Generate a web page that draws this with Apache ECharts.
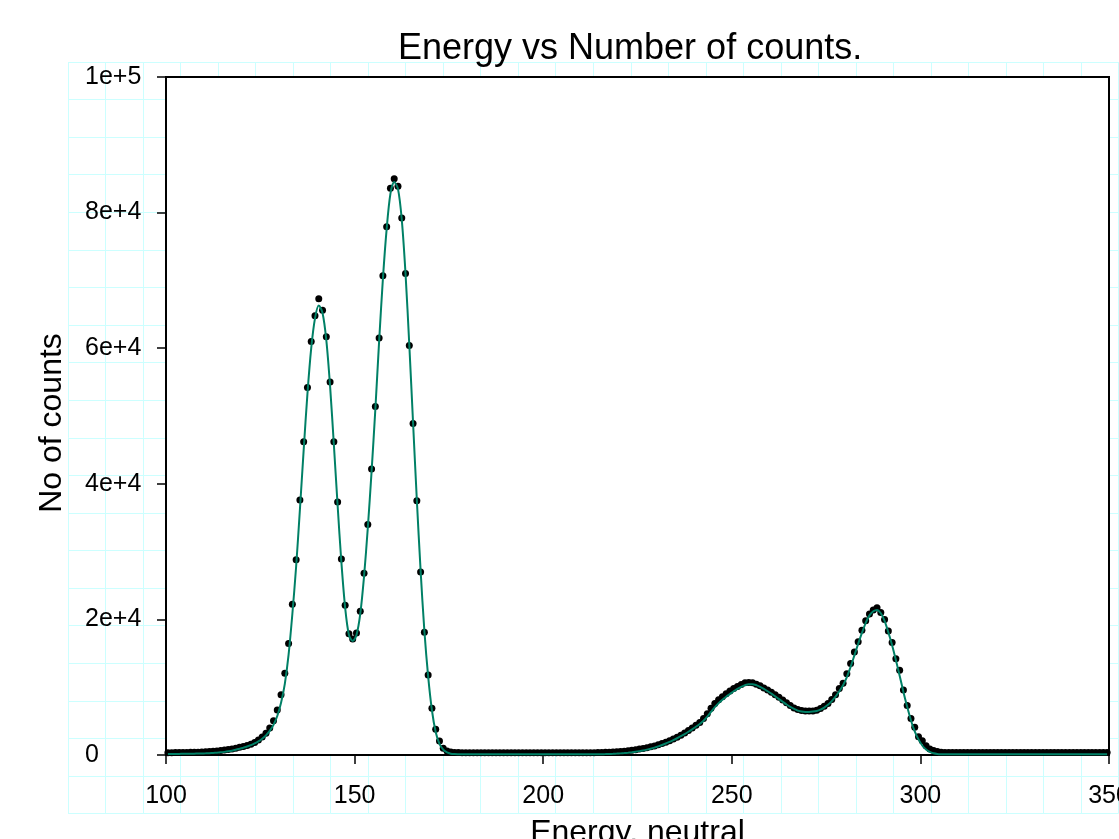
<!DOCTYPE html>
<html><head><meta charset="utf-8">
<script src="https://cdn.jsdelivr.net/npm/echarts@6/dist/echarts.min.js"></script>
<style>html,body{margin:0;padding:0;background:#fff}#c{width:1119px;height:839px}</style>
</head><body><div id="c"></div>
<script>
const chartTitle = 'Energy vs Number of counts.';
const xName = 'Energy, neutral';
const yName = 'No of counts';
const yTickLabels = ['0','2e+4','4e+4','6e+4','8e+4','1e+5'];

const energies = [
100.5,101.5,102.5,103.5,104.5,105.5,106.5,107.5,108.5,109.5,
110.5,111.5,112.5,113.5,114.5,115.5,116.5,117.5,118.5,119.5,
120.5,121.5,122.5,123.5,124.5,125.5,126.5,127.5,128.5,129.5,
130.5,131.5,132.5,133.5,134.5,135.5,136.5,137.5,138.5,139.5,
140.5,141.5,142.5,143.5,144.5,145.5,146.5,147.5,148.5,149.5,
150.5,151.5,152.5,153.5,154.5,155.5,156.5,157.5,158.5,159.5,
160.5,161.5,162.5,163.5,164.5,165.5,166.5,167.5,168.5,169.5,
170.5,171.5,172.5,173.5,174.5,175.5,176.5,177.5,178.5,179.5,
180.5,181.5,182.5,183.5,184.5,185.5,186.5,187.5,188.5,189.5,
190.5,191.5,192.5,193.5,194.5,195.5,196.5,197.5,198.5,199.5,
200.5,201.5,202.5,203.5,204.5,205.5,206.5,207.5,208.5,209.5,
210.5,211.5,212.5,213.5,214.5,215.5,216.5,217.5,218.5,219.5,
220.5,221.5,222.5,223.5,224.5,225.5,226.5,227.5,228.5,229.5,
230.5,231.5,232.5,233.5,234.5,235.5,236.5,237.5,238.5,239.5,
240.5,241.5,242.5,243.5,244.5,245.5,246.5,247.5,248.5,249.5,
250.5,251.5,252.5,253.5,254.5,255.5,256.5,257.5,258.5,259.5,
260.5,261.5,262.5,263.5,264.5,265.5,266.5,267.5,268.5,269.5,
270.5,271.5,272.5,273.5,274.5,275.5,276.5,277.5,278.5,279.5,
280.5,281.5,282.5,283.5,284.5,285.5,286.5,287.5,288.5,289.5,
290.5,291.5,292.5,293.5,294.5,295.5,296.5,297.5,298.5,299.5,
300.5,301.5,302.5,303.5,304.5,305.5,306.5,307.5,308.5,309.5,
310.5,311.5,312.5,313.5,314.5,315.5,316.5,317.5,318.5,319.5,
320.5,321.5,322.5,323.5,324.5,325.5,326.5,327.5,328.5,329.5,
330.5,331.5,332.5,333.5,334.5,335.5,336.5,337.5,338.5,339.5,
340.5,341.5,342.5,343.5,344.5,345.5,346.5,347.5,348.5,349.5
];

const counts = [
340,350,355,360,370,380,390,400,420,440,
470,500,540,590,650,720,800,900,1010,1130,
1260,1400,1600,1850,2200,2650,3200,4000,5060,6640,
8900,12060,16430,22240,28800,37600,46200,54200,61000,64800,
67300,65600,61700,55000,46200,37300,28900,22100,17900,17100,
18000,21200,26800,34000,42200,51400,61500,70700,77900,83600,
85000,83900,79200,71000,60400,48900,37500,27000,18100,11800,
6900,3800,2070,990,590,450,380,360,350,350,
350,350,350,350,350,350,350,350,350,350,
350,350,350,350,350,350,350,350,350,350,
350,350,350,350,350,350,350,350,350,350,
350,350,350,350,360,380,400,420,450,480,
520,570,630,700,780,870,970,1080,1200,1340,
1500,1680,1880,2100,2350,2620,2920,3250,3600,3980,
4380,4800,5400,6100,6900,7600,8150,8600,9050,9450,
9800,10100,10400,10650,10700,10650,10450,10200,9900,9600,
9250,8900,8500,8100,7700,7300,6950,6700,6550,6500,
6480,6500,6600,6850,7200,7600,8200,8900,9800,10600,
12000,13500,15200,16700,18400,19800,20800,21400,21700,21000,
20000,18300,16600,14200,12500,9600,7300,5400,4100,2700,
2100,1350,900,650,500,420,380,370,370,370,
370,370,370,370,370,370,370,370,370,370,
370,370,370,370,370,370,370,370,370,370,
370,370,370,370,370,370,370,370,370,370,
370,370,370,370,370,370,370,370,370,370
];

const fit = [
150,155,160,165,170,180,190,200,215,230,
250,275,305,345,395,460,540,640,770,920,
1080,1250,1450,1700,2000,2400,2900,3550,4450,5750,
7700,10500,14800,20800,27800,36200,45000,53300,60000,64400,
66300,65200,61200,54400,45800,36800,28400,21700,17700,16800,
17700,20800,26300,33500,41800,51000,61000,70200,77600,82800,
84500,83500,79000,71000,60500,49000,37600,27200,18300,11600,
6600,3400,1650,780,370,190,130,110,100,100,
100,100,100,100,100,100,100,100,100,100,
100,100,100,100,100,100,100,100,100,100,
100,100,100,100,100,100,100,100,100,100,
100,100,100,100,105,115,130,150,175,205,
240,285,340,405,480,570,670,790,930,1090,
1270,1470,1690,1930,2190,2470,2770,3090,3430,3790,
4170,4570,5050,5650,6350,7050,7650,8150,8600,9000,
9400,9750,10050,10300,10450,10450,10300,10050,9750,9400,
9050,8650,8250,7850,7450,7100,6800,6550,6400,6350,
6350,6400,6500,6700,7000,7400,7950,8600,9400,10300,
11500,13000,14700,16400,18000,19500,20600,21200,21400,20900,
19800,18100,16200,14000,11700,9300,7100,5100,3500,2300,
1400,820,460,260,160,120,105,100,100,100,
100,100,100,100,100,100,100,100,100,100,
100,100,100,100,100,100,100,100,100,100,
100,100,100,100,100,100,100,100,100,100,
100,100,100,100,100,100,100,100,100,100
];

const FONT = 'Liberation Sans, Arial, sans-serif';
const chart = echarts.init(document.getElementById('c'), null, {renderer: 'canvas'});
chart.setOption({
  animation: false,
  backgroundColor: '#ffffff',
  textStyle: {fontFamily: FONT},
  title: {
    text: chartTitle, left: 393, top: 26,
    textStyle: {fontFamily: FONT, fontSize: 36, fontWeight: 'normal', color: '#000'}
  },
  grid: [
    {left: 166, right: 10, top: 77, bottom: 84, show: true, backgroundColor: '#ffffff',
     borderColor: '#000', borderWidth: 2, z: 1, containLabel: false, outerBoundsMode: 'none'},
    {left: 68, top: 62, width: 1050.5, height: 751.5, show: false,
     containLabel: false, outerBoundsMode: 'none'}
  ],
  xAxis: [
    {gridIndex: 0, type: 'value', min: 100, max: 350, interval: 50, z: 5,
     name: xName, nameLocation: 'middle', nameGap: 62,
     nameTextStyle: {fontFamily: FONT, fontSize: 32, color: '#000'},
     axisLine: {show: true, onZero: false, lineStyle: {color: '#000', width: 2}},
     axisTick: {show: true, inside: false, length: 9, lineStyle: {color: '#000', width: 1.5}},
     axisLabel: {fontFamily: FONT, fontSize: 25, color: '#000', margin: 29, hideOverlap: false},
     splitLine: {show: false}},
    {gridIndex: 1, type: 'value', min: 0, max: 28, interval: 1, z: 0,
     axisLine: {show: false}, axisTick: {show: false}, axisLabel: {show: false},
     splitLine: {show: true, lineStyle: {color: '#ccffff', width: 1}}}
  ],
  yAxis: [
    {gridIndex: 0, type: 'value', min: 0, max: 100000, interval: 20000, z: 5,
     name: yName, nameLocation: 'middle', nameGap: 98, nameRotate: 90,
     nameTextStyle: {fontFamily: FONT, fontSize: 32, color: '#000', padding: [0, 14, 0, 0]},
     axisLine: {show: true, onZero: false, lineStyle: {color: '#000', width: 2}},
     axisTick: {show: true, inside: false, length: 9, lineStyle: {color: '#000', width: 1.5}},
     axisLabel: {fontFamily: FONT, fontSize: 25, color: '#000', margin: 81, align: 'left',
       formatter: v => yTickLabels[Math.round(v / 20000)]},
     splitLine: {show: false}},
    {gridIndex: 1, type: 'value', min: 0, max: 20, interval: 1, z: 0,
     axisLine: {show: false}, axisTick: {show: false}, axisLabel: {show: false},
     splitLine: {show: true, lineStyle: {color: '#ccffff', width: 1}}}
  ],
  series: [
    {type: 'scatter', xAxisIndex: 0, yAxisIndex: 0, z: 6,
     symbol: 'circle', symbolSize: 7,
     itemStyle: {color: '#000', opacity: 1},
     data: energies.map((e, i) => [e, counts[i]])},
    {type: 'line', xAxisIndex: 0, yAxisIndex: 0, z: 7,
     showSymbol: false, smooth: 0.3,
     lineStyle: {color: '#008066', width: 2},
     data: energies.map((e, i) => [e, fit[i]])}
  ]
});
</script>
</body></html>
